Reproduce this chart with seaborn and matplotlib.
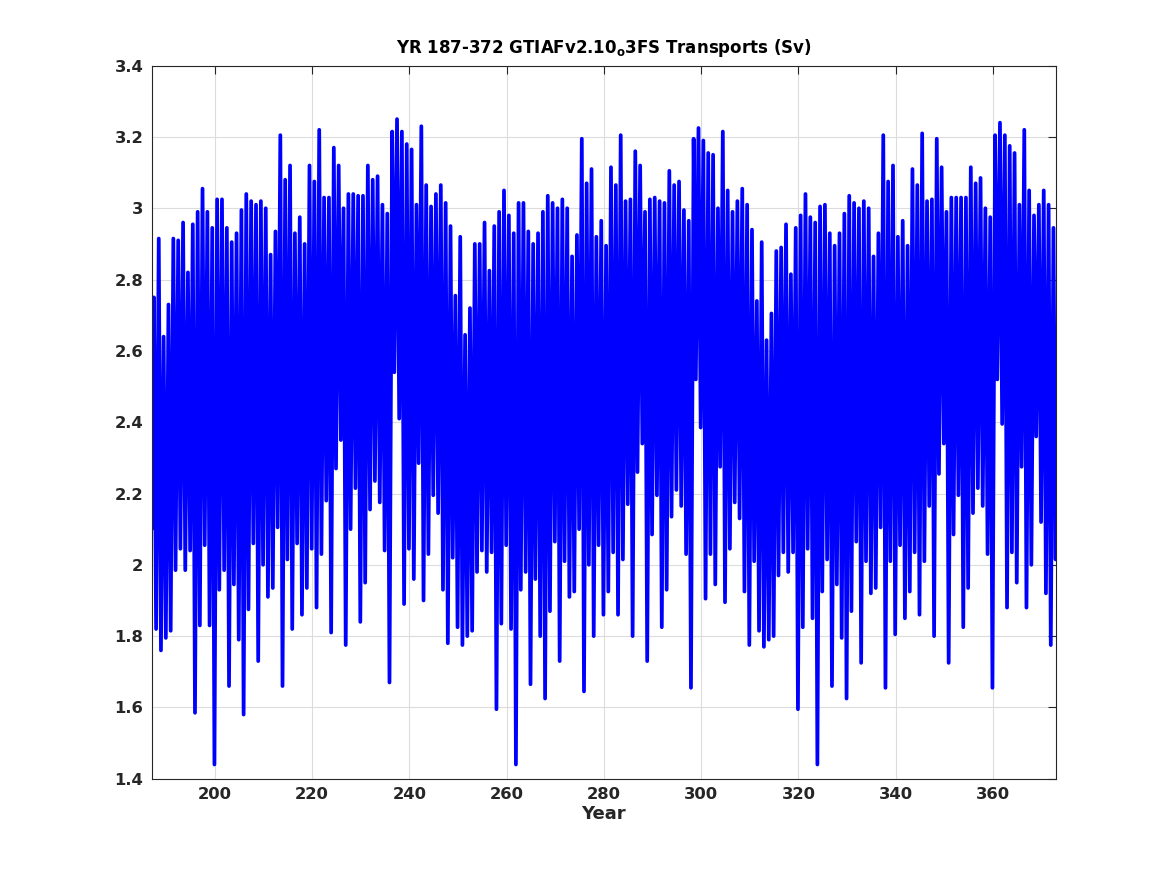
import numpy as np
import pandas as pd
import matplotlib
matplotlib.use("Agg")
import matplotlib.pyplot as plt
from matplotlib.ticker import FuncFormatter, MultipleLocator
import seaborn as sns

# yearly highs and lows of the transport (Sv), years 187..372
years = list(range(187, 373))

peaks = [
    2.75, 2.915, 2.64, 2.73, 2.915, 2.91, 2.96, 2.82, 2.955, 2.99,
    3.055, 2.99, 2.945, 3.025, 3.025, 2.945, 2.905, 2.93, 2.995, 3.04,
    3.02, 3.01, 3.02, 3.0, 2.87, 2.935, 3.205, 3.08, 3.12, 2.93,
    2.975, 2.90, 3.12, 3.075, 3.22, 3.03, 3.03, 3.17, 3.12, 3.0,
    3.04, 3.04, 3.035, 3.035, 3.12, 3.08, 3.09, 3.01, 2.985, 3.215,
    3.25, 3.215, 3.18, 3.165, 3.01, 3.23, 3.065, 3.005, 3.04, 3.065,
    3.015, 2.95, 2.755, 2.92, 2.645, 2.72, 2.90, 2.90, 2.96, 2.825,
    2.95, 2.99, 3.05, 2.98, 2.93, 3.015, 3.015, 2.935, 2.90, 2.93,
    2.99, 3.035, 3.015, 3.0, 3.025, 3.0, 2.865, 2.925, 3.195, 3.07,
    3.11, 2.92, 2.965, 2.895, 3.115, 3.065, 3.205, 3.02, 3.025, 3.16,
    3.12, 2.99, 3.025, 3.03, 3.02, 3.015, 3.105, 3.065, 3.075, 2.995,
    2.965, 3.195, 3.225, 3.19, 3.155, 3.15, 3.0, 3.215, 3.05, 2.99,
    3.02, 3.055, 3.01, 2.94, 2.74, 2.905, 2.63, 2.705, 2.88, 2.89,
    2.955, 2.815, 2.945, 2.98, 3.04, 2.975, 2.96, 3.005, 3.01, 2.93,
    2.895, 2.93, 2.985, 3.035, 3.015, 3.0, 3.02, 3.0, 2.865, 2.93,
    3.205, 3.075, 3.12, 2.92, 2.965, 2.895, 3.11, 3.065, 3.21, 3.02,
    3.025, 3.195, 3.115, 2.99, 3.03, 3.03, 3.03, 3.03, 3.115, 3.07,
    3.085, 3.0, 2.975, 3.205, 3.24, 3.205, 3.175, 3.155, 3.01, 3.22,
    3.05, 2.98, 3.01, 3.05, 3.01, 2.945,
]

troughs = [
    1.82, 1.76, 1.795, 1.815, 1.985, 2.045, 1.985, 2.04, 1.585, 1.83,
    2.055, 1.83, 1.44, 1.93, 1.985, 1.66, 1.945, 1.79, 1.58, 1.875,
    2.06, 1.73, 2.0, 1.91, 1.935, 2.105, 1.66, 2.015, 1.82, 2.06,
    1.86, 1.935, 2.045, 1.88, 2.03, 2.18, 1.81, 2.27, 2.35, 1.775,
    2.10, 2.215, 1.84, 1.95, 2.155, 2.235, 2.175, 2.04, 1.67, 2.54,
    2.41, 1.89, 2.045, 1.96, 2.285, 1.90, 2.03, 2.195, 2.145, 1.93,
    1.78, 2.02, 1.825, 1.775, 1.80, 1.815, 1.98, 2.04, 1.98, 2.035,
    1.595, 1.835, 2.055, 1.82, 1.44, 1.93, 1.98, 1.665, 1.96, 1.80,
    1.625, 1.87, 2.065, 1.73, 2.01, 1.91, 1.925, 2.10, 1.645, 2.0,
    1.80, 2.055, 1.86, 1.925, 2.035, 1.86, 2.015, 2.17, 1.80, 2.26,
    2.34, 1.73, 2.085, 2.195, 1.825, 1.93, 2.135, 2.21, 2.165, 2.03,
    1.655, 2.52, 2.385, 1.905, 2.03, 1.945, 2.275, 1.895, 2.045, 2.175,
    2.13, 1.925, 1.775, 2.01, 1.815, 1.77, 1.79, 1.80, 1.97, 2.035,
    1.98, 2.035, 1.595, 1.825, 2.045, 1.85, 1.44, 1.925, 2.015, 1.66,
    1.945, 1.795, 1.625, 1.87, 2.065, 1.725, 2.01, 1.92, 1.935, 2.105,
    1.655, 2.01, 1.805, 2.055, 1.85, 1.925, 2.035, 1.86, 2.01, 2.165,
    1.80, 2.255, 2.34, 1.725, 2.085, 2.195, 1.825, 1.935, 2.145, 2.215,
    2.165, 2.03, 1.655, 2.52, 2.395, 1.88, 2.035, 1.95, 2.275, 1.88,
    2.0, 2.36, 2.12, 1.92, 1.775, 2.015,
]

start_value = 2.1
end_value = 2.25

title = "YR 187-372 GTIAFv2.10$_{\\rm o}$3FS Transports (Sv)"

# build the series: high in mid-year, low near the end of each year
t = [187.0]
v = [start_value]
for yr, hi, lo in zip(years, peaks, troughs):
    t += [yr + 0.45, yr + 0.9]
    v += [hi, lo]
t.append(373.0)
v.append(end_value)
df = pd.DataFrame({"Year": t, "Sv": v})

sns.set_theme(style="white")
plt.rcParams["font.family"] = ["DejaVu Sans"]
plt.rcParams["font.weight"] = "bold"

fig = plt.figure(figsize=(11.67, 8.75), dpi=100)
ax = fig.add_axes([0.13, 0.11, 0.775, 0.815])

sns.lineplot(data=df, x="Year", y="Sv", ax=ax, color="#0000ff", linewidth=2.7,
             estimator=None, sort=False)

ax.set_xlim(187, 373)
ax.set_ylim(1.4, 3.4)
ax.xaxis.set_major_locator(MultipleLocator(20))
ax.yaxis.set_major_locator(MultipleLocator(0.2))
ax.yaxis.set_major_formatter(FuncFormatter(lambda y, p: "%g" % round(y, 2)))
ax.grid(True, color="#dcdcdc", linewidth=0.8)
ax.set_axisbelow(True)
ax.tick_params(direction="in", length=6, width=0.8, top=True, right=True,
               labelsize=11.8, colors="#262626", pad=6)
for lab in ax.get_xticklabels() + ax.get_yticklabels():
    lab.set_fontweight("bold")
for s in ax.spines.values():
    s.set_color("#262626")
    s.set_linewidth(0.8)

ax.set_xlabel("Year", fontsize=13, fontweight="bold", color="#262626", labelpad=2)
ax.set_ylabel("")
ax.set_title(title, fontsize=12, fontweight="bold", color="#000000", pad=9)

fig.savefig("out.png", dpi=100, facecolor="white")
